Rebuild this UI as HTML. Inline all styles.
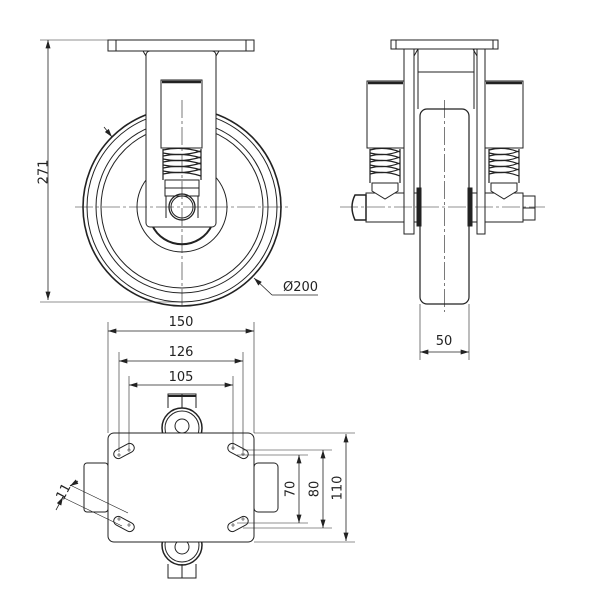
<!DOCTYPE html>
<html><head><meta charset="utf-8"><style>
html,body{margin:0;padding:0;background:#fff;}
svg{display:block;}
text{font-family:"DejaVu Sans","Liberation Sans",sans-serif;font-size:13px;fill:#222;}
</style></head><body>
<svg width="600" height="600" viewBox="0 0 600 600" xmlns="http://www.w3.org/2000/svg">
<defs>
<marker id="a" viewBox="0 0 10 6" refX="10" refY="3" markerWidth="9" markerHeight="5" orient="auto-start-reverse" markerUnits="userSpaceOnUse"><path d="M0,0 L10,3 L0,6 Z" fill="#222"/></marker>
</defs>
<g fill="none" stroke="#222" stroke-width="1">
<!-- ===== SIDE VIEW ===== -->
<line x1="48" y1="40" x2="48" y2="300" marker-start="url(#a)" marker-end="url(#a)" stroke-width="0.8"/>
<line x1="40" y1="40" x2="108" y2="40" stroke-width="0.6"/>
<line x1="40" y1="302" x2="182" y2="302" stroke-width="0.6"/>
<circle cx="182" cy="207" r="99" stroke-width="1.6"/>
<circle cx="182" cy="207" r="95"/>
<circle cx="182" cy="207" r="86"/>
<circle cx="182" cy="207" r="81"/>
<circle cx="182" cy="207" r="45"/>
<path d="M152,225 A33,33 0 0 0 212,225" stroke-width="2"/>
<rect x="146" y="51" width="70" height="176" rx="4" fill="#fff"/>
<rect x="108" y="40" width="146" height="11" fill="#fff"/>
<line x1="116" y1="40" x2="116" y2="51"/><line x1="246" y1="40" x2="246" y2="51"/>
<path d="M143,51 L146,56 M219,51 L216,56"/>
<rect x="161" y="80" width="41" height="68" fill="#fff"/>
<line x1="162" y1="82" x2="201" y2="82" stroke-width="2.5"/>
<g stroke-width="1.2">
<path d="M163,150 Q182,146 201,152 M163,156 Q182,152 201,158 M163,162 Q182,158 201,164 M163,168 Q182,164 201,170 M163,174 Q182,170 201,176"/>
<path d="M163,153 Q182,157 201,151 M163,159 Q182,163 201,157 M163,165 Q182,169 201,163 M163,171 Q182,175 201,169"/>
<line x1="163" y1="149" x2="163" y2="180"/><line x1="201" y1="149" x2="201" y2="180"/>
</g>
<rect x="165" y="180" width="34" height="16"/>
<line x1="165" y1="188" x2="199" y2="188"/>
<path d="M166,196 L166,218 M198,196 L198,218"/>
<circle cx="182" cy="207" r="13" stroke-width="1.3"/>
<circle cx="182" cy="207" r="11"/>
<line x1="75" y1="207" x2="290" y2="207" stroke-width="0.6" stroke-dasharray="18,3,3,3"/>
<line x1="182" y1="100" x2="182" y2="306" stroke-width="0.6" stroke-dasharray="18,3,3,3"/>
<line x1="104" y1="127" x2="112" y2="137" stroke-width="0.8" marker-end="url(#a)"/>
<path d="M272,295 L318,295" stroke-width="0.7"/>
<line x1="272" y1="295" x2="254" y2="278" stroke-width="0.8" marker-end="url(#a)"/>

<!-- ===== FRONT VIEW ===== -->
<rect x="420" y="109" width="49" height="195" rx="7" stroke-width="1.2"/>
<line x1="444.5" y1="100" x2="444.5" y2="312" stroke-width="0.6" stroke-dasharray="18,3,3,3"/>
<rect x="391" y="40" width="107" height="9" fill="#fff"/>
<line x1="396" y1="40" x2="396" y2="49"/><line x1="493" y1="40" x2="493" y2="49"/>
<rect x="404" y="49" width="10" height="185" fill="#fff"/>
<rect x="477" y="49" width="8" height="185" fill="#fff"/>
<path d="M414,56 L418,49 M477,56 L473,49"/>
<rect x="418" y="49" width="56" height="23"/>
<line x1="418" y1="72" x2="418" y2="109"/><line x1="474" y1="72" x2="474" y2="109"/>
<rect x="367" y="81" width="37" height="67" fill="#fff"/>
<rect x="485" y="81" width="38" height="67" fill="#fff"/>
<line x1="368" y1="83" x2="403" y2="83" stroke-width="2.5"/>
<line x1="486" y1="83" x2="522" y2="83" stroke-width="2.5"/>
<g stroke-width="1.2">
<path d="M370,150 Q385,146 400,152 M370,156 Q385,152 400,158 M370,162 Q385,158 400,164 M370,168 Q385,164 400,170 M370,174 Q385,170 400,176"/>
<path d="M370,153 Q385,157 400,151 M370,159 Q385,163 400,157 M370,165 Q385,169 400,163 M370,171 Q385,175 400,169"/>
<line x1="370" y1="149" x2="370" y2="183"/><line x1="400" y1="149" x2="400" y2="183"/>
<path d="M489,150 Q504,146 519,152 M489,156 Q504,152 519,158 M489,162 Q504,158 519,164 M489,168 Q504,164 519,170 M489,174 Q504,170 519,176"/>
<path d="M489,153 Q504,157 519,151 M489,159 Q504,163 519,157 M489,165 Q504,169 519,163 M489,171 Q504,175 519,169"/>
<line x1="489" y1="149" x2="489" y2="183"/><line x1="519" y1="149" x2="519" y2="183"/>
</g>
<rect x="366" y="193" width="38" height="29" fill="#fff"/>
<rect x="485" y="193" width="38" height="29" fill="#fff"/>
<path d="M372,183 L398,183 L398,191 L385,199 L372,191 Z" fill="#fff"/>
<path d="M491,183 L517,183 L517,191 L504,199 L491,191 Z" fill="#fff"/>
<rect x="414" y="193" width="6" height="29"/><rect x="469" y="193" width="8" height="29"/>
<rect x="417" y="188" width="4" height="38" fill="#222"/>
<rect x="468" y="188" width="4" height="38" fill="#222"/>
<path d="M366,195 L355,195 Q349,207 355,220 L366,220 Z" stroke-width="1.5"/>
<rect x="523" y="196" width="12" height="24"/>
<line x1="523" y1="208" x2="535" y2="208"/>
<line x1="340" y1="207" x2="545" y2="207" stroke-width="0.6" stroke-dasharray="18,3,3,3"/>
<line x1="420" y1="304" x2="420" y2="360" stroke-width="0.6"/>
<line x1="469" y1="304" x2="469" y2="360" stroke-width="0.6"/>
<line x1="420" y1="352" x2="469" y2="352" stroke-width="0.8" marker-start="url(#a)" marker-end="url(#a)"/>

<!-- ===== TOP VIEW ===== -->
<circle cx="182" cy="428" r="20" stroke-width="1.5"/>
<circle cx="182" cy="428" r="17"/>
<circle cx="182" cy="426" r="7"/>
<path d="M168,408 L168,394 L196,394 L196,408"/>
<line x1="168" y1="396" x2="196" y2="396" stroke-width="2"/>
<line x1="182" y1="394" x2="182" y2="408"/>
<circle cx="182" cy="545" r="20" stroke-width="1.5"/>
<circle cx="182" cy="545" r="17"/>
<circle cx="182" cy="547" r="7"/>
<path d="M168,564 L168,578 L196,578 L196,564"/>
<line x1="182" y1="564" x2="182" y2="578"/>
<rect x="84" y="463" width="24" height="49" rx="3"/>
<rect x="254" y="463" width="24" height="49" rx="4"/>
<rect x="108" y="433" width="146" height="109" rx="6" fill="#fff"/>
<g stroke-width="1">
<rect x="-11" y="-4.5" width="22" height="9" rx="4.5" transform="translate(124,451) rotate(-28)"/>
<rect x="-11" y="-4.5" width="22" height="9" rx="4.5" transform="translate(238,451) rotate(28)"/>
<rect x="-11" y="-4.5" width="22" height="9" rx="4.5" transform="translate(124,524) rotate(28)"/>
<rect x="-11" y="-4.5" width="22" height="9" rx="4.5" transform="translate(238,524) rotate(-28)"/>
</g>
<g stroke-width="0.6">
<path d="M117,455 h4 M119,453 v4 M127,450 h4 M129,448 v4"/>
<path d="M231,448 h4 M233,446 v4 M241,454 h4 M243,452 v4"/>
<path d="M117,519 h4 M119,517 v4 M127,525 h4 M129,523 v4"/>
<path d="M231,525 h4 M233,523 v4 M241,519 h4 M243,517 v4"/>
<line x1="108" y1="322" x2="108" y2="433"/><line x1="254" y1="322" x2="254" y2="433"/>
<line x1="119" y1="352" x2="119" y2="452"/><line x1="243" y1="352" x2="243" y2="452"/>
<line x1="129" y1="376" x2="129" y2="450"/><line x1="233" y1="376" x2="233" y2="450"/>
<line x1="254" y1="433" x2="355" y2="433"/><line x1="254" y1="542" x2="355" y2="542"/>
<line x1="243" y1="450" x2="332" y2="450"/><line x1="243" y1="528" x2="332" y2="528"/>
<line x1="237" y1="455" x2="308" y2="455"/><line x1="237" y1="523" x2="308" y2="523"/>
<line x1="128" y1="513" x2="70" y2="485"/><line x1="122" y1="526" x2="62" y2="497"/>
</g>
<g stroke-width="0.8">
<line x1="108" y1="331" x2="254" y2="331" marker-start="url(#a)" marker-end="url(#a)"/>
<line x1="119" y1="361" x2="243" y2="361" marker-start="url(#a)" marker-end="url(#a)"/>
<line x1="129" y1="385" x2="233" y2="385" marker-start="url(#a)" marker-end="url(#a)"/>
<line x1="299" y1="455" x2="299" y2="523" marker-start="url(#a)" marker-end="url(#a)"/>
<line x1="323" y1="450" x2="323" y2="528" marker-start="url(#a)" marker-end="url(#a)"/>
<line x1="346" y1="434" x2="346" y2="541" marker-start="url(#a)" marker-end="url(#a)"/>
<line x1="78" y1="481" x2="70" y2="486" marker-end="url(#a)"/>
<line x1="56" y1="510" x2="63" y2="497" marker-end="url(#a)"/>
</g>
</g>
<text x="44" y="172" text-anchor="middle" transform="rotate(-90 44 172)" dominant-baseline="middle">271</text>
<text x="283" y="291">Ø200</text>
<text x="444" y="345" text-anchor="middle">50</text>
<text x="181" y="326" text-anchor="middle">150</text>
<text x="181" y="356" text-anchor="middle">126</text>
<text x="181" y="381" text-anchor="middle">105</text>
<text x="291" y="489" text-anchor="middle" dominant-baseline="middle" transform="rotate(-90 291 489)">70</text>
<text x="315" y="489" text-anchor="middle" dominant-baseline="middle" transform="rotate(-90 315 489)">80</text>
<text x="338" y="488" text-anchor="middle" dominant-baseline="middle" transform="rotate(-90 338 488)">110</text>
<text x="64" y="492" text-anchor="middle" dominant-baseline="middle" transform="rotate(-62 64 492)">11</text>
</svg>
</body></html>
